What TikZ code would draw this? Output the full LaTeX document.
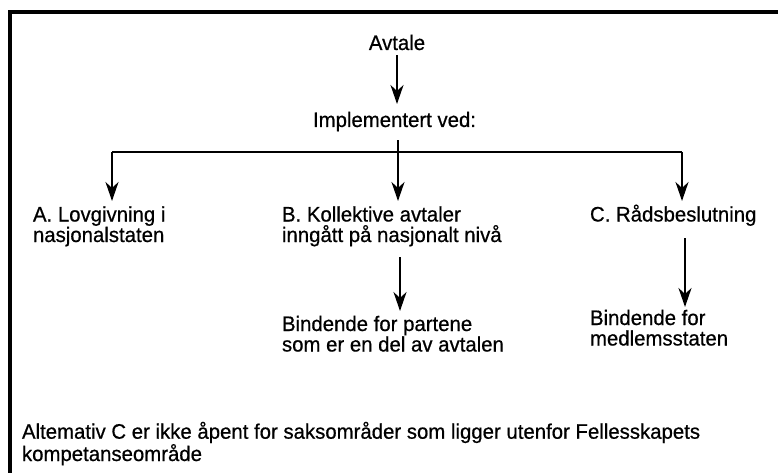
\documentclass[tikz,border=0pt]{standalone}
\usepackage{fontspec}
\setmainfont{Liberation Sans}[FakeStretch=0.97, FakeBold=0.6]
\usetikzlibrary{arrows.meta}
\begin{document}
\begin{tikzpicture}[x=1pt,y=-1pt,
  lbl/.style={inner sep=0pt, outer sep=0pt, align=left, font=\fontsize{21}{20.5}\selectfont, anchor=base west},
  conn/.style={line width=2.2pt},
  arr/.style={conn, -{Stealth[length=19pt,width=13pt,inset=6pt]}},
  frame/.style={line width=3.5pt}]
\useasboundingbox (0,0) rectangle (778,473);
% frame
\draw[frame] (10,473) -- (10,12) -- (778,12);
% nodes (base anchor = baseline of last line)
\node[lbl, anchor=base] (avt) at (397,50) {Avtale};
\node[lbl] (impl) at (313,127) {Implementert ved:};
\node[lbl] (A) at (33,242) {A. Lovgivning i\\nasjonalstaten};
\node[lbl] (B) at (282,242) {B. Kollektive avtaler\\inngått på nasjonalt nivå};
\node[lbl] (C) at (590,221.5) {C. Rådsbeslutning};
\node[lbl] (BB) at (282,351.5) {Bindende for partene\\som er en del av avtalen};
\node[lbl] (CB) at (590,345.5) {Bindende for\\medlemsstaten};
\node[lbl] (note) at (22,461) {Altemativ C er ikke åpent for saksområder som ligger utenfor Fellesskapets\\kompetanseområde};
% branch coordinates
\coordinate (split) at (398,152);
\coordinate (ca) at (112,152);
\coordinate (cc) at (682,152);
\coordinate (bx) at (400,0);
\coordinate (cx) at (685,0);
% connectors
\draw[arr] (avt.south) ++(0,5) coordinate (avs) -- (avs |- 0,104);
\draw[conn] (impl.south -| split) ++(0,9) coordinate (ims) -- (split);
\draw[conn] (ca) -- (cc);
\draw[arr] (ca) -- (ca |- 0,201);
\draw[arr] (split) -- (split |- 0,201);
\draw[arr] (cc) -- (cc |- 0,201);
\draw[arr] (bx |- 0,257) coordinate (bs) -- (bx |- 0,311);
\draw[arr] (cx |- 0,238) coordinate (cs) -- (cx |- 0,307);
\end{tikzpicture}
\end{document}
